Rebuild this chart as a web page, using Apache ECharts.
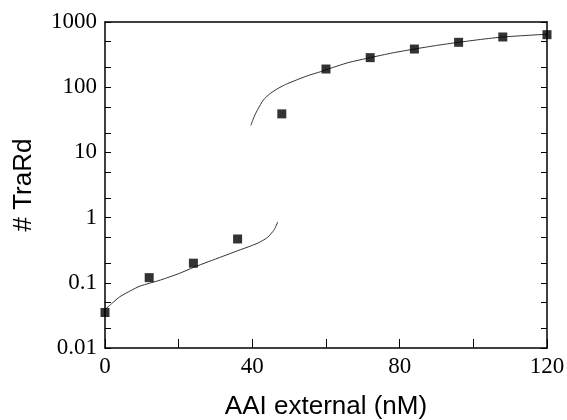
<!DOCTYPE html>
<html>
<head>
<meta charset="utf-8">
<script src="https://cdn.jsdelivr.net/npm/echarts@6/dist/echarts.min.js"></script>
<style>html,body{margin:0;padding:0;background:#fff}#c{width:567px;height:420px}</style>
</head>
<body>
<div id="c"></div>
<script>
// Measured points
var pointX = [0, 12, 24, 36, 48, 60, 72, 84, 96, 108, 120];
var pointY = [0.035, 0.12, 0.2, 0.47, 39, 190, 284, 385, 488, 589, 639];
// Fitted curve, low branch
var lowFitX = [0, 2, 4, 7, 9.5, 15, 20, 24, 28, 32, 36, 40, 42, 44, 45, 46, 46.9];
var lowFitY = [0.039, 0.049, 0.061, 0.076, 0.089, 0.11, 0.138, 0.172, 0.21, 0.255, 0.31, 0.375, 0.42, 0.49, 0.56, 0.66, 0.86];
// Fitted curve, high branch
var highFitX = [39.6, 40.1, 40.7, 41.5, 43, 44.6, 46.6, 49, 52, 55, 58.4, 60, 66, 72, 78, 84, 90, 96, 102, 108, 114, 120];
var highFitY = [26, 31, 37.5, 46, 63.7, 78, 93, 110, 129, 150, 172, 185, 238, 284, 335, 385, 437, 488, 540, 589, 620, 650];
// Axis ticks
var xMin = 0, xMax = 120, xTickStep = 20, xLabelStep = 40;
var yMin = 0.01, yMax = 1000;
var yLabels = [0.01, 0.1, 1, 10, 100, 1000];
var yTicks = [0.01, 0.02, 0.05, 0.1, 0.2, 0.5, 1, 2, 5, 10, 20, 50, 100, 200, 500, 1000];

function zip(a, b) { return a.map(function (v, i) { return [v, b[i]]; }); }
function fmtY(v) { return String(parseFloat(Number(v).toPrecision(3))); }

var chart = echarts.init(document.getElementById('c'), null, {renderer: 'canvas'});
var serif = '"Liberation Serif", "DejaVu Serif", serif';
var sans = '"Liberation Sans", Arial, sans-serif';

chart.setOption({
  animation: false,
  backgroundColor: '#ffffff',
  grid: {left: 105, right: 20, top: 22, bottom: 72, containLabel: false, outerBoundsMode: 'none'},
  xAxis: [{
    type: 'value', min: xMin, max: xMax, interval: xTickStep,
    name: 'AAI external (nM)', nameLocation: 'middle', nameGap: 46,
    nameTextStyle: {fontFamily: sans, fontSize: 26, color: '#000'},
    axisLine: {show: true, onZero: false, lineStyle: {color: '#000', width: 1.5}},
    axisTick: {show: true, inside: true, length: 9, lineStyle: {color: '#000', width: 1}},
    axisLabel: {fontFamily: serif, fontSize: 23, color: '#000', margin: 7,
      formatter: function (v) { return (Math.round(v) % xLabelStep === 0) ? String(v) : ''; }},
    splitLine: {show: false}
  }, {
    type: 'value', position: 'top', min: xMin, max: xMax, interval: xTickStep,
    axisLine: {show: true, onZero: false, lineStyle: {color: '#000', width: 1.5}},
    axisTick: {show: false}, axisLabel: {show: false}, splitLine: {show: false}
  }],
  yAxis: [{
    type: 'log', logBase: 10, min: yMin, max: yMax, position: 'left',
    name: '# TraRd', nameLocation: 'middle', nameGap: 68,
    nameTextStyle: {fontFamily: sans, fontSize: 26, color: '#000'},
    axisLine: {show: true, onZero: false, lineStyle: {color: '#000', width: 1.5}},
    axisTick: {show: true, inside: true, length: 6, customValues: yTicks, lineStyle: {color: '#000', width: 1}},
    axisLabel: {fontFamily: serif, fontSize: 23, color: '#000', margin: 8, customValues: yLabels, formatter: fmtY},
    splitLine: {show: false}
  }, {
    type: 'log', logBase: 10, min: yMin, max: yMax, position: 'right',
    axisLine: {show: true, onZero: false, lineStyle: {color: '#000', width: 1.5}},
    axisTick: {show: true, inside: true, length: 6, customValues: yTicks, lineStyle: {color: '#000', width: 1}},
    axisLabel: {show: false}, splitLine: {show: false}
  }],
  series: [{
    type: 'line', data: zip(lowFitX, lowFitY), smooth: 0.2, showSymbol: false, symbol: 'none',
    lineStyle: {color: '#333', width: 1}, z: 2
  }, {
    type: 'line', data: zip(highFitX, highFitY), smooth: 0.2, showSymbol: false, symbol: 'none',
    lineStyle: {color: '#333', width: 1}, z: 2
  }, {
    type: 'scatter', data: zip(pointX, pointY), symbol: 'rect', symbolSize: 9,
    itemStyle: {color: '#000'}, z: 3
  }]
});
</script>
</body>
</html>
